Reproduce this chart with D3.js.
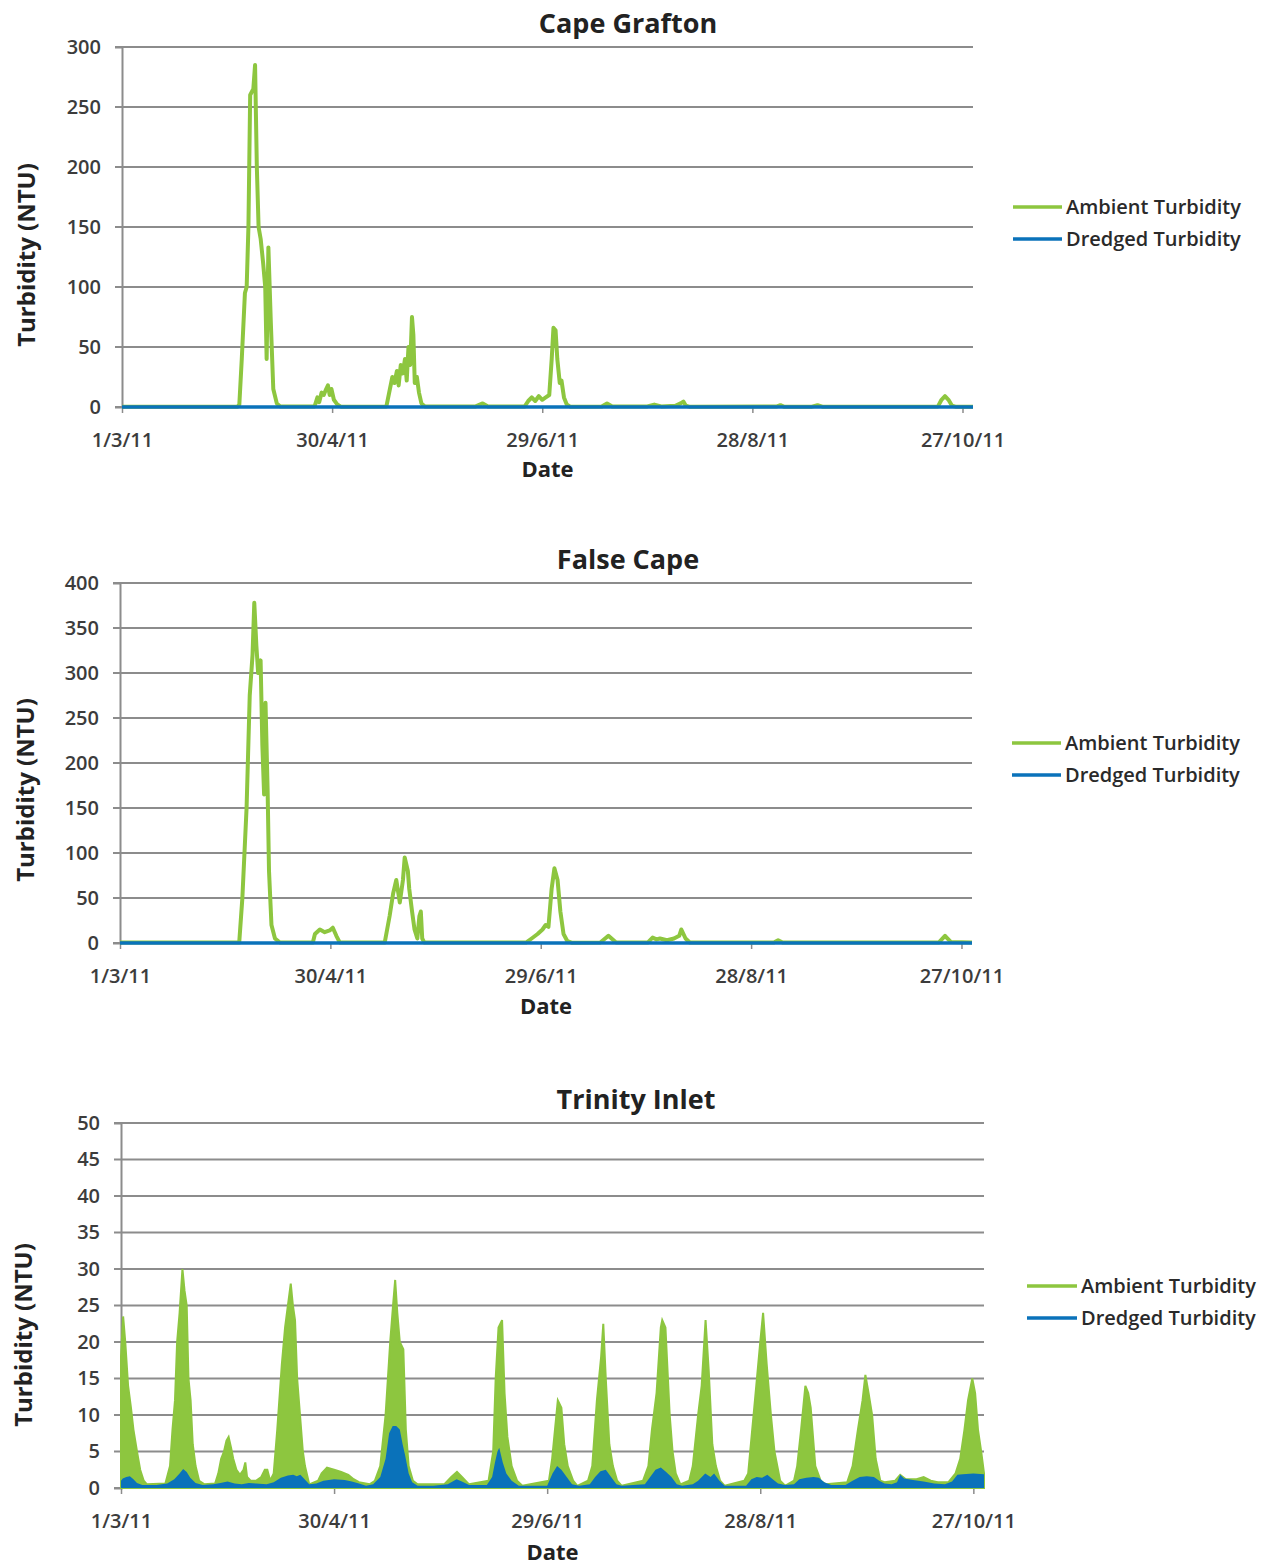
<!DOCTYPE html>
<html>
<head>
<meta charset="utf-8">
<script src="https://cdn.jsdelivr.net/npm/d3@7"></script>
<style>
  body { margin: 0; background: #fff; }
  text { font-family: "Open Sans", sans-serif; }
</style>
</head>
<body>
<div id="chart"></div>
<script>
// x axis: days since 1/3/11
let tickDays = [0, 60, 120, 180, 240];
let tickLabels = ["1/3/11", "30/4/11", "29/6/11", "28/8/11", "27/10/11"];
let seriesNames = ["Ambient Turbidity", "Dredged Turbidity"];

// Cape Grafton
let capeDays = [0, 33, 33.5, 34.2, 35.1, 35.6, 36.1, 36.6, 37.5, 38, 38.5, 39, 39.6, 40.3, 40.9, 41.3, 41.8, 42.5, 43.2, 44.2, 45.2,
  55, 55.8, 56.3, 57, 57.6, 58.3, 58.8, 59.3, 59.8, 60.5, 61.5, 62.5,
  75.5, 76.5, 77.2, 77.8, 78.5, 79, 79.6, 80.2, 80.8, 81.3, 81.8, 82.3, 82.8, 83.2, 83.6, 84.2, 84.8, 85.5, 86.5,
  101, 103, 104.5, 115, 116, 117, 118, 119, 120, 121, 122, 122.7, 123.2, 123.8, 124.3, 125, 125.5, 126.2, 127, 128,
  137, 138.5, 140, 150, 152, 154, 158, 159.5, 160.3, 161, 162, 187, 188, 189, 197, 198.6, 200,
  233, 234, 235, 236, 237, 238, 243];
let capeAmbient = [0.3, 0.3, 2, 40, 95, 100, 150, 260, 265, 285, 200, 150, 140, 120, 100, 40, 133, 70, 15, 3, 0.5,
  0.5, 8, 4, 12, 10, 15, 18, 10, 15, 6, 2, 0.3,
  0.5, 15, 25, 20, 30, 18, 35, 28, 40, 22, 50, 35, 75, 60, 20, 25, 12, 3, 0.5,
  0.5, 3, 0.5, 0.5, 5, 8, 5, 9, 6, 8, 10, 40, 66, 64, 40, 20, 22, 8, 2, 0.3,
  0.5, 3, 0.5, 0.5, 2, 0.5, 1, 3, 4.5, 1, 0.3, 0.5, 1.5, 0.3, 0.3, 1.5, 0.3,
  0.5, 6, 9, 6, 1, 0.3, 0.3];
let capeDredgedDays = [0, 60, 120, 180, 243];
let capeDredged = [0, 0, 0, 0, 0];

// False Cape
let falseDays = [0, 34, 34.9, 36.1, 37, 37.8, 38.3, 38.9, 39.4, 40.1, 40.6, 41.1, 41.5, 42.1, 42.5, 43.2, 44.2, 45.6,
  55, 55.6, 57, 58.4, 59.8, 60.7, 61.7, 62.7,
  75.5, 76.9, 77.9, 78.8, 79.8, 80.7, 81.2, 82.1, 82.5, 83.3, 84, 84.8, 85.4, 85.8, 86.2, 86.8,
  115.8, 117.4, 119.1, 120.5, 121.4, 122.2, 123.1, 123.9, 124.8, 125.6, 126.5, 127.6, 128.8,
  137, 139.3, 141.5, 150.5, 151.9, 153, 154, 156, 158, 159.5, 160.1, 161.3, 162.5,
  186.5, 187.7, 189, 233.5, 235.3, 237, 243];
let falseAmbient = [0.5, 0.5, 50, 150, 275, 320, 378, 330, 300, 314, 220, 165, 267, 170, 80, 20, 5, 0.5,
  0.5, 10, 15, 12, 14, 17, 8, 0.5,
  0.5, 30, 55, 70, 45, 70, 95, 80, 60, 35, 15, 5, 30, 35, 5, 0.5,
  0.5, 5, 10, 15, 20, 18, 60, 83, 70, 35, 10, 2, 0.3,
  0.5, 8, 0.5, 0.5, 6, 4, 5, 3, 5, 8, 15, 5, 0.5,
  0.5, 3, 0.5, 0.5, 8, 1, 0.5];
let falseDredgedDays = [0, 60, 120, 180, 243];
let falseDredged = [0, 0, 0, 0, 0];

// Trinity Inlet
let trinDays = [0, 0.6, 1.2, 2, 2.8, 3.5, 4.5, 5.4, 6.4, 7.3,
  12.5, 13.8, 14.5, 15.2, 15.8, 16.5, 17.3, 17.9, 18.5, 19, 19.6, 20.2, 21, 22, 23.5,
  26.5, 27.4, 28.2, 29, 29.7, 30.3, 31, 31.6, 32.5, 33.5, 34.5, 35, 35.5, 36.5, 38, 39.5, 40.5, 41.2, 42,
  43, 44, 45.3, 46.2, 47, 47.8, 48.4, 49, 49.6, 50.4, 51.2, 51.8, 53,
  55.5, 56.5, 58, 60, 62, 64, 65.5, 67, 70,
  71.5, 73, 74.5, 75.8, 76.6, 77.2, 77.8, 78.5, 79.5, 80.2, 81, 82.2, 83.5,
  91, 93, 94.6, 96, 98,
  103.5, 104.8, 105.5, 106.3, 107.3, 108, 108.8, 110, 111.5, 113,
  120.5, 121.4, 122.2, 123, 124, 124.8, 125.8, 127.3, 128.5,
  131.5, 132.7, 134, 135.2, 135.8, 136.5, 137.5, 138.5, 139.7, 141,
  147, 148.5, 149.5, 150.8, 152, 152.4, 153.3, 154.5, 155.3, 156.2, 157.5,
  160, 161, 162.5, 163.5, 164.6, 165.5, 166.5, 167.5, 168.7, 170,
  175.5, 176.6, 178.5, 180, 180.8, 181.8, 183, 184, 185.6, 187,
  189.5, 190.4, 191.5, 192.7, 193.5, 194.2, 195.5, 197, 198.5,
  204.5, 206, 207.5, 208.8, 209.6, 210.5, 211.5, 212.5, 213.8, 215,
  218, 219.4, 221, 224, 226, 228, 230, 233,
  235, 236.3, 237.5, 238.5, 239.7, 240.5, 241.3, 242.2, 243];
let trinAmbient = [18, 23.5, 20, 14, 11, 8, 5, 2.5, 1, 0.5,
  0.6, 3, 8, 12, 20, 24, 30, 27, 25, 15, 12, 6, 3, 1, 0.5,
  0.6, 2, 4, 5, 6.5, 7, 5.5, 4, 2.5, 1.8, 2.5, 3.5, 1.5, 1, 1, 1.5, 2.5, 2.5, 1,
  2, 8, 17, 22, 25, 28, 25, 23, 15, 10, 5, 3, 0.5,
  1, 2, 2.8, 2.5, 2.2, 1.8, 1.2, 0.8, 0.5,
  1, 3, 10, 20, 25, 28.5, 24, 20, 19, 8, 3, 1, 0.5,
  0.5, 1.5, 2.2, 1.5, 0.5,
  1, 5, 15, 22, 23, 13, 7, 3, 1, 0.3,
  1, 4, 8, 12, 11, 6, 3, 1, 0.3,
  1, 3, 12, 18, 22.5, 15, 6, 3, 1, 0.3,
  1, 3, 8, 13, 22, 23, 22, 10, 5, 2, 0.5,
  1, 3, 10, 14, 23, 16, 6, 3, 1, 0.3,
  1, 2, 12, 20, 24, 17, 10, 5, 1, 0.3,
  1, 3, 8, 14, 13, 11, 3, 1, 0.5,
  0.8, 3, 8, 12, 15.5, 13, 10, 4, 1, 0.8,
  1, 1.8, 1.2, 1.2, 1.5, 1, 0.8, 0.8,
  2, 4, 8, 12, 15, 13, 8, 5, 2];
let trinDredgedDays = [0, 0.5, 1.5, 2.5, 3.5, 4.5, 6, 10, 13, 15, 16.5, 17.5, 18.5, 19.5, 21, 23, 26, 28, 30, 32, 34, 36, 38, 41,
  43, 45, 47, 48.5, 49.5, 50.5, 51.5, 53, 55, 57, 60, 63, 65, 67, 69,
  71, 73, 74.5, 75.5, 76.5, 77.5, 78.5, 79.3, 80, 81, 82, 83.5, 88, 92, 94.5, 96, 98,
  103, 104.5, 105.3, 106, 106.5, 107.5, 108.5, 110, 112, 120, 121.5, 122.8, 124, 125.5, 127, 129,
  132, 133.5, 135, 136.5, 138, 139.5, 141, 147.5, 149, 150.5, 152, 153.5, 155, 156.5, 158,
  161, 162.5, 164.5, 166, 167, 168.5, 170, 176, 177.5, 179, 180.5, 182, 183.5, 185, 187,
  189.5, 191, 193, 195, 196.5, 198, 200, 204, 206, 208, 210, 212, 213.5, 215,
  217, 218.5, 219.4, 220.5, 223, 226, 229, 232, 234, 235.5, 237, 240, 243];
let trinDredged = [1, 1.3, 1.5, 1.6, 1.2, 0.7, 0.4, 0.4, 0.6, 1.2, 2, 2.6, 2.2, 1.4, 0.7, 0.4, 0.5, 0.7, 0.9, 0.6, 0.5, 0.7, 0.6, 0.5,
  0.8, 1.4, 1.7, 1.8, 1.6, 1.8, 1.3, 0.5, 0.6, 1, 1.2, 1.1, 0.9, 0.6, 0.3,
  0.5, 1.5, 4, 7.5, 8.5, 8.5, 8, 6, 4.5, 2, 0.8, 0.3, 0.3, 0.5, 1.2, 0.9, 0.4,
  0.4, 1.5, 3.5, 5, 5.5, 3.5, 2, 1, 0.3, 0.3, 2, 3, 2.5, 1.5, 0.5, 0.3,
  0.5, 1.5, 2.3, 2.5, 1.5, 0.5, 0.3, 0.5, 1.5, 2.5, 2.8, 2.2, 1.5, 0.5, 0.3,
  0.5, 1, 2, 1.5, 2, 1, 0.3, 0.3, 1.2, 1.5, 1.4, 1.8, 1.2, 0.6, 0.4,
  0.5, 1.2, 1.4, 1.5, 1.4, 0.8, 0.4, 0.4, 1, 1.5, 1.6, 1.5, 1, 0.6,
  0.5, 0.8, 1.8, 1.3, 1.1, 0.9, 0.6, 0.5, 0.9, 1.8, 1.9, 2, 1.9];

let green = "#8dc63f";
let blue = "#0a72ba";
let gridColor = "#8c8c8c";
let startDate = new Date(2011, 2, 1);
let endDate = new Date(2011, 9, 30);
let toDate = (d) => new Date(startDate.getTime() + d * 864e5);

let panels = [
  { title: "Cape Grafton", x0: 122, x1: 973, top: 47, bottom: 407, max: 300, step: 50, titleX: 628, titleY: 33,
    yLabelX: 35, yLabelY: 255, dateY: 477, legX: 1013, legY: 207, legW: 49, fill: false,
    days: capeDays, ambient: capeAmbient, dDays: capeDredgedDays, dredged: capeDredged },
  { title: "False Cape", x0: 120, x1: 972, top: 583, bottom: 943, max: 400, step: 50, titleX: 628, titleY: 569,
    yLabelX: 34, yLabelY: 790, dateY: 1014, legX: 1012, legY: 743, legW: 49, fill: false,
    days: falseDays, ambient: falseAmbient, dDays: falseDredgedDays, dredged: falseDredged },
  { title: "Trinity Inlet", x0: 121, x1: 984, top: 1123, bottom: 1488, max: 50, step: 5, titleX: 636, titleY: 1109,
    yLabelX: 32, yLabelY: 1335, dateY: 1560, legX: 1027, legY: 1286, legW: 50, fill: true,
    days: trinDays, ambient: trinAmbient, dDays: trinDredgedDays, dredged: trinDredged }
];

let svg = d3.select("#chart").append("svg")
    .attr("width", 1279)
    .attr("height", 1565);

panels.forEach((p) => {
    let g = svg.append("g");
    let x = d3.scaleTime().domain([startDate, endDate]).range([p.x0, p.x1]);
    let y = d3.scaleLinear().domain([0, p.max]).range([p.bottom, p.top]);
    let yTicks = d3.range(0, p.max + p.step / 2, p.step);

    // gridlines
    g.selectAll("line.grid")
        .data(yTicks)
        .join("line")
        .attr("class", "grid")
        .attr("x1", p.x0 - 7)
        .attr("x2", p.x1)
        .attr("y1", d => y(d))
        .attr("y2", d => y(d))
        .attr("stroke", gridColor)
        .attr("stroke-width", 2);

    // y axis
    let yAxis = g.append("g")
        .attr("transform", `translate(${p.x0},0)`)
        .call(d3.axisLeft(y).tickValues(yTicks).tickSize(7).tickPadding(14));
    yAxis.select(".domain").attr("stroke", gridColor).attr("stroke-width", 2);
    yAxis.selectAll(".tick line").remove();
    yAxis.selectAll("text")
        .style("font-family", "Open Sans")
        .style("font-size", "20px")
        .style("font-weight", 600)
        .attr("fill", "#3c3c3c");

    // x axis
    let xAxis = g.append("g")
        .attr("transform", `translate(0,${p.bottom})`)
        .call(d3.axisBottom(x)
            .tickValues(tickDays.map(toDate))
            .tickFormat((d, i) => tickLabels[i])
            .tickSize(6)
            .tickPadding(20));
    xAxis.select(".domain").remove();
    xAxis.selectAll(".tick line").attr("stroke", gridColor).attr("stroke-width", 1.5);
    xAxis.selectAll("text")
        .style("font-family", "Open Sans")
        .style("font-size", "20px")
        .style("font-weight", 600)
        .attr("fill", "#3c3c3c");

    let amb = p.days.map((d, i) => ({ date: toDate(d), v: p.ambient[i] }));
    let dre = p.dDays.map((d, i) => ({ date: toDate(d), v: p.dredged[i] }));

    if (p.fill) {
        let area = d3.area().x(d => x(d.date)).y0(y(0)).y1(d => y(d.v));
        g.append("path").datum(amb)
            .attr("d", area)
            .attr("fill", green)
            .attr("stroke", green)
            .attr("stroke-width", 2);
        g.append("path").datum(dre)
            .attr("d", area)
            .attr("fill", blue);
    } else {
        let line = d3.line().x(d => x(d.date)).y(d => y(d.v));
        g.append("path").datum(amb)
            .attr("d", line)
            .attr("fill", "none")
            .attr("stroke", green)
            .attr("stroke-width", 4)
            .attr("stroke-linejoin", "round");
        g.append("path").datum(dre)
            .attr("d", line)
            .attr("fill", "none")
            .attr("stroke", blue)
            .attr("stroke-width", 3.5);
    }

    // titles
    g.append("text")
        .attr("x", p.titleX)
        .attr("y", p.titleY)
        .attr("text-anchor", "middle")
        .style("font-size", "27px")
        .style("font-weight", "bold")
        .attr("fill", "#222")
        .text(p.title);
    g.append("text")
        .attr("x", (p.x0 + p.x1) / 2)
        .attr("y", p.dateY)
        .attr("text-anchor", "middle")
        .style("font-size", "22px")
        .style("font-weight", "bold")
        .attr("fill", "#222")
        .text("Date");
    g.append("text")
        .attr("transform", `translate(${p.yLabelX},${p.yLabelY}) rotate(-90)`)
        .attr("text-anchor", "middle")
        .style("font-size", "24px")
        .style("font-weight", "bold")
        .attr("fill", "#222")
        .text("Turbidity (NTU)");

    // legend
    let leg = g.selectAll("g.leg")
        .data(seriesNames)
        .join("g")
        .attr("class", "leg")
        .attr("transform", (d, i) => `translate(${p.legX},${p.legY + i * 32})`);
    leg.append("line")
        .attr("x1", 0)
        .attr("x2", p.legW)
        .attr("stroke", (d, i) => i === 0 ? green : blue)
        .attr("stroke-width", 3.5);
    leg.append("text")
        .attr("x", p.legW + 4)
        .attr("dy", "0.35em")
        .style("font-size", "20px")
        .style("font-weight", 600)
        .attr("fill", "#2a2a2a")
        .text(d => d);
});
</script>
</body>
</html>
